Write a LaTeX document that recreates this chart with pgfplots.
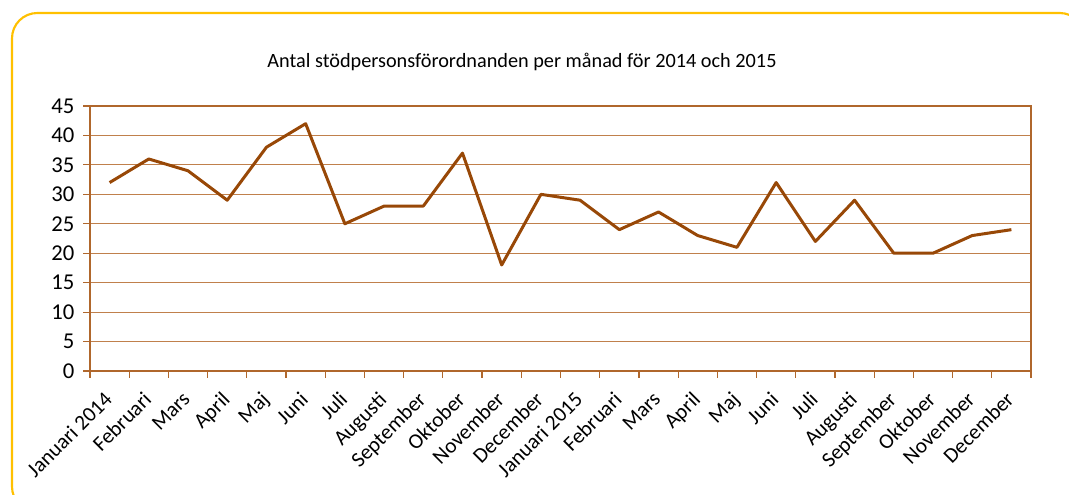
\documentclass[border=0pt]{standalone}
\usepackage{fontspec}
\setmainfont{Carlito}
\usepackage{pgfplots}
\pgfplotsset{compat=1.18}
\definecolor{linec}{HTML}{984807}
\definecolor{gridc}{HTML}{C0804C}
\definecolor{axc}{HTML}{B0672C}
\definecolor{framec}{HTML}{FFC000}
\begin{document}
\begin{tikzpicture}[x=0.75pt,y=0.75pt]
\clip (0,0) rectangle (1069,495);
\draw[framec, line width=1.6pt, rounded corners=19pt] (12,-17) rectangle (1085,482);
\node[font=\fontsize{15.2}{18}\selectfont, anchor=center, inner sep=0pt] at (522,433) {Antal stödpersonsförordnanden per månad för 2014 och 2015};
\begin{axis}[at={(67.5pt,93pt)}, anchor=south west, scale only axis,
  width=705.75pt, height=198.75pt,
  xmin=-0.5, xmax=23.5, ymin=0, ymax=45,
  ytick={0,5,...,45}, ymajorgrids, grid style={gridc, line width=0.9pt},
  xtick={-0.5,0.5,...,23.5}, xticklabels={},
  extra x ticks={0,1,...,23},
  extra x tick labels={Januari 2014,Februari,Mars,April,Maj,Juni,Juli,Augusti,September,Oktober,November,December,Januari 2015,Februari,Mars,April,Maj,Juni,Juli,Augusti,September,Oktober,November,December},
  extra x tick style={major tick length=0pt, xticklabel shift=13pt, tick label style={xshift=-5pt, rotate=45, anchor=north east, font=\fontsize{16}{18}\selectfont, inner sep=1pt}},
  axis line style={axc, line width=0.9pt},
  tick style={axc, line width=0.9pt},
  tick align=outside, major tick length=5.25pt,
  xtick pos=bottom, ytick pos=left,
  yticklabel style={font=\fontsize{17}{19}\selectfont, xshift=-3pt},
  /pgf/number format/assume math mode=true,
]
\addplot[linec, line width=2.25pt, line join=round] coordinates {
(0,32) (1,36) (2,34) (3,29) (4,38) (5,42) (6,25) (7,28) (8,28) (9,37) (10,18) (11,30)
(12,29) (13,24) (14,27) (15,23) (16,21) (17,32) (18,22) (19,29) (20,20) (21,20) (22,23) (23,24)};
\end{axis}
\end{tikzpicture}
\end{document}
